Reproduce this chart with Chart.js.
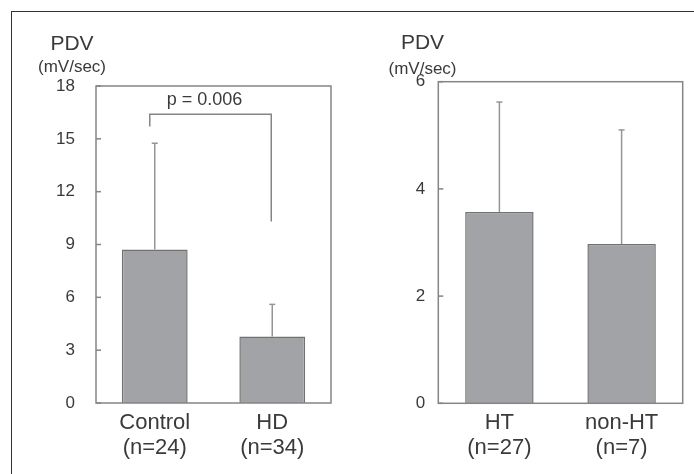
<!DOCTYPE html>
<html>
<head>
<meta charset="utf-8">
<script src="https://cdn.jsdelivr.net/npm/chart.js@4/dist/chart.umd.min.js"></script>
<style>
  html, body { margin: 0; padding: 0; background: #fff; }
  #wrap { position: relative; width: 694px; height: 474px; overflow: hidden; background: #fff; }
  #frame { position: absolute; left: 11px; top: 11px; width: 700px; height: 480px;
           border-left: 1.5px solid #333; border-top: 1.5px solid #333; }
  canvas { position: absolute; top: 0; }
  #c1 { left: 0; }
  #c2 { left: 347px; }
</style>
</head>
<body>
<div id="wrap">
  <div id="frame"></div>
  <canvas id="c1" width="347" height="474"></canvas>
  <canvas id="c2" width="347" height="474"></canvas>
</div>
<script>
// ---- data ----
const leftCategories = [["Control", "(n=24)"], ["HD", "(n=34)"]];
const leftMeans = [8.72, 3.78];
const leftSD = [6.03, 1.82];
const leftTicks = [0, 3, 6, 9, 12, 15, 18];
const bracketLevels = [15.7, 16.4, 10.3]; // left leg bottom, bar top, right leg bottom
const pLabel = "p = 0.006";

const rightCategories = [["HT", "(n=27)"], ["non-HT", "(n=7)"]];
const rightMeans = [3.57, 2.97];
const rightSD = [2.05, 2.13];
const rightTicks = [0, 2, 4, 6];

const yTitle = "PDV";
const yUnit = "(mV/sec)";

const FONT = "'Liberation Sans', Arial, Helvetica, sans-serif";
const TEXT = "#3a3a3a";
const AXIS = "#858585";

function line(ctx, x0, y0, x1, y1) {
  ctx.beginPath(); ctx.moveTo(x0, y0); ctx.lineTo(x1, y1); ctx.stroke();
}

const decor = {
  id: 'decor',
  afterDatasetsDraw(chart, args, opts) {
    const { ctx, chartArea: a } = chart;
    const x = chart.scales.x, y = chart.scales.y;
    ctx.save();
    // error bars
    ctx.strokeStyle = "#959595"; ctx.lineWidth = 1.5;
    chart.data.datasets[0].data.forEach((v, i) => {
      const px = x.getPixelForValue(i);
      const y0 = y.getPixelForValue(v);
      const y1 = y.getPixelForValue(v + opts.sd[i]);
      line(ctx, px, y0, px, y1);
      line(ctx, px - 3, y1, px + 3, y1);
    });
    // frame around plot
    ctx.strokeStyle = AXIS; ctx.lineWidth = 1.5;
    ctx.strokeRect(a.left, a.top, a.right - a.left, a.bottom - a.top);
    // inward ticks
    y.ticks.forEach(t => {
      const py = y.getPixelForValue(t.value);
      line(ctx, a.left, py, a.left + 5, py);
    });
    // bracket
    if (opts.bracket) {
      const b = opts.bracket;
      const xl = x.getPixelForValue(0) - 5;
      const xr = x.getPixelForValue(1) - 1;
      const yl = y.getPixelForValue(b.levels[0]);
      const yt = y.getPixelForValue(b.levels[1]);
      const yr = y.getPixelForValue(b.levels[2]);
      ctx.strokeStyle = "#858585"; ctx.lineWidth = 1.5;
      ctx.beginPath();
      ctx.moveTo(xl, yl); ctx.lineTo(xl, yt); ctx.lineTo(xr, yt); ctx.lineTo(xr, yr);
      ctx.stroke();
      ctx.fillStyle = TEXT;
      ctx.font = "18px " + FONT;
      ctx.textAlign = "center"; ctx.textBaseline = "middle";
      ctx.fillText(b.label, (xl + xr) / 2 - 6, yt - 14);
    }
    // axis title
    ctx.fillStyle = TEXT;
    ctx.textAlign = "center"; ctx.textBaseline = "middle";
    ctx.font = "21px " + FONT;
    ctx.fillText(yTitle, opts.titleX, opts.titleY);
    ctx.font = "17px " + FONT;
    ctx.fillText(yUnit, opts.titleX, opts.unitY);
    ctx.restore();
  }
};

function makeChart(id, cats, means, sd, ticks, maxV, axisW, padTop, padRight, xH, decorOpts) {
  return new Chart(document.getElementById(id), {
    type: 'bar',
    data: {
      labels: cats,
      datasets: [{
        data: means,
        backgroundColor: "#a2a3a7",
        borderColor: "#717171",
        borderWidth: 1.5,
        categoryPercentage: 1,
        barPercentage: 0.56
      }]
    },
    options: {
      responsive: false,
      animation: false,
      devicePixelRatio: 1,
      layout: { padding: { left: 0, right: padRight, top: padTop, bottom: 0 } },
      plugins: { legend: { display: false }, tooltip: { enabled: false }, decor: decorOpts },
      scales: {
        x: {
          grid: { display: false, drawTicks: false },
          border: { display: false },
          ticks: { color: TEXT, font: { family: FONT, size: 22, lineHeight: 1.15 }, padding: 7, maxRotation: 0, autoSkip: false },
          afterFit(s) { s.height = xH; }
        },
        y: {
          min: 0, max: maxV,
          grid: { display: false, drawTicks: false },
          border: { display: false },
          afterBuildTicks(s) { s.ticks = ticks.map(v => ({ value: v })); },
          ticks: { color: TEXT, font: { family: FONT, size: 17 }, padding: decorOpts.tickPad },
          afterFit(s) { s.width = axisW; }
        }
      }
    },
    plugins: [decor]
  });
}

makeChart('c1', leftCategories, leftMeans, leftSD, leftTicks, 18, 96, 86, 16, 71,
  { sd: leftSD, bracket: { levels: bracketLevels, label: pLabel }, titleX: 72, titleY: 44, unitY: 67, tickPad: 21 });
makeChart('c2', rightCategories, rightMeans, rightSD, rightTicks, 6, 91.3, 81.7, 11.3, 70.7,
  { sd: rightSD, titleX: 75.5, titleY: 43, unitY: 69, tickPad: 13 });
</script>
</body>
</html>
